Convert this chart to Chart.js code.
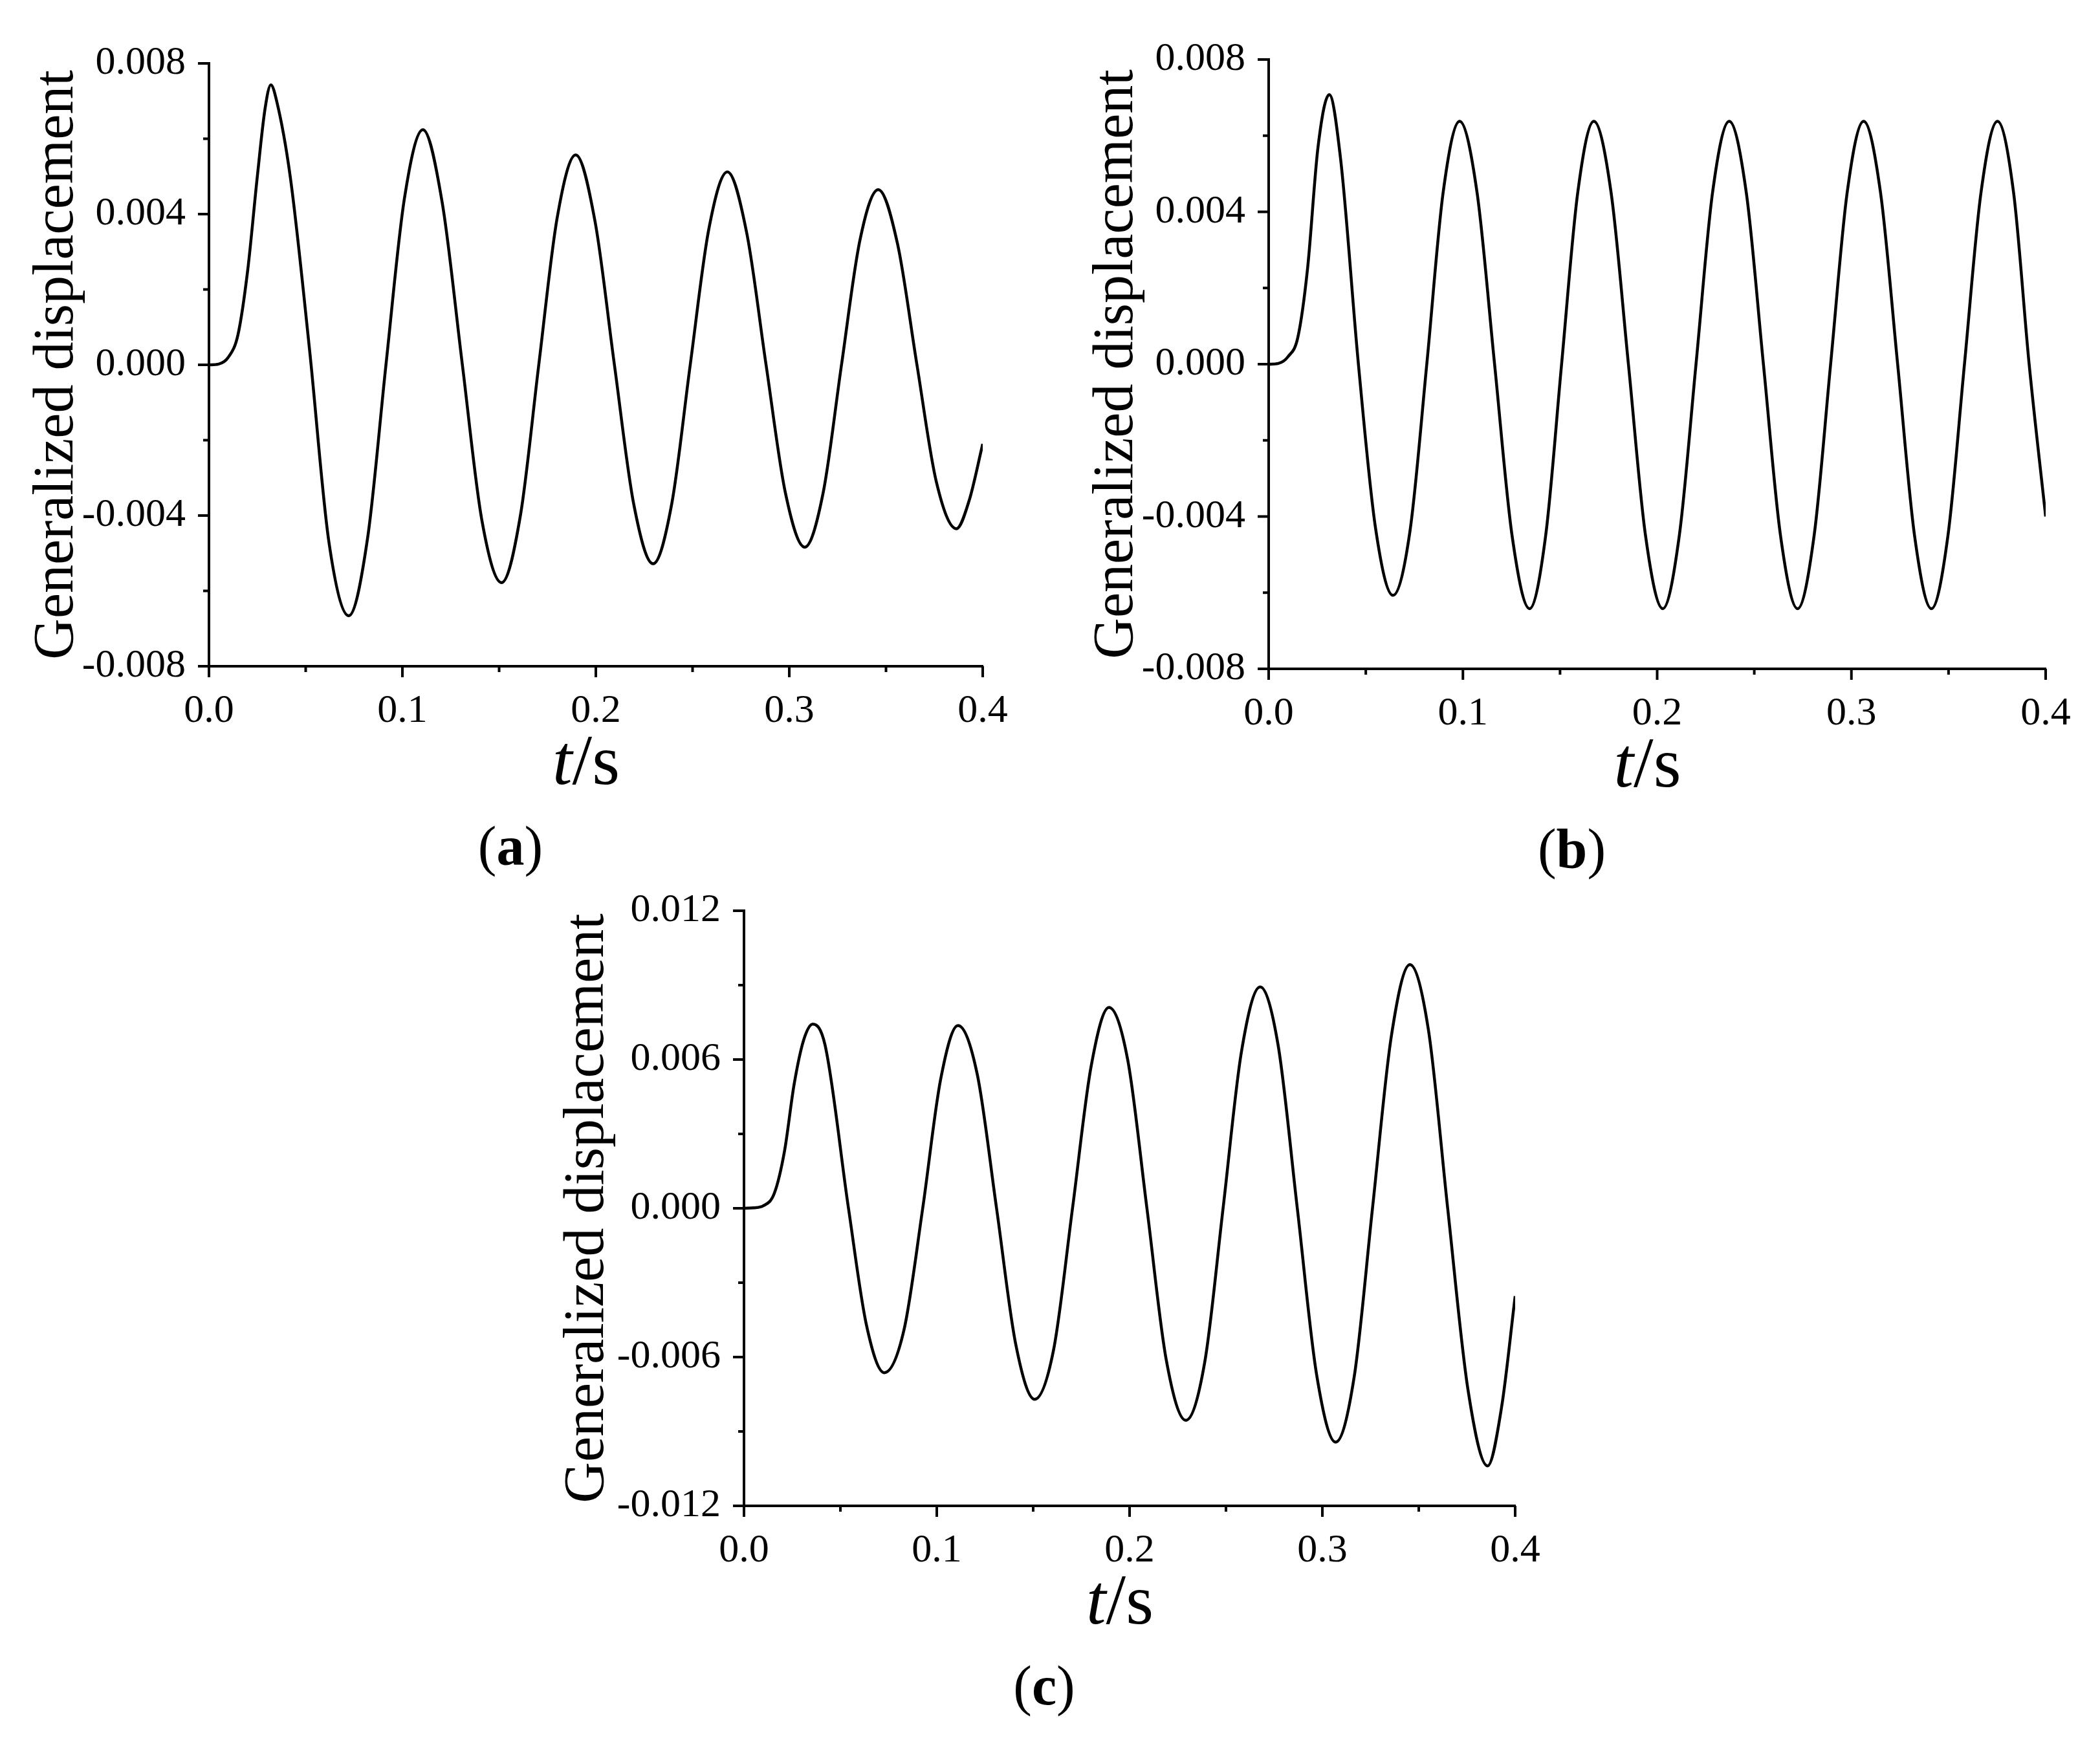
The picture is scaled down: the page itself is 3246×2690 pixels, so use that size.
<!DOCTYPE html>
<html><head><meta charset="utf-8">
<script src="https://cdn.jsdelivr.net/npm/chart.js@4"></script>
<style>
body{margin:0;background:#fff;width:3246px;height:2690px;position:relative;overflow:hidden}
canvas{position:absolute}
</style></head><body>
<canvas id="ca" width="1623" height="1400" style="left:0;top:0"></canvas>
<canvas id="cb" width="1623" height="1400" style="left:1623px;top:0"></canvas>
<canvas id="cc" width="1623" height="1390" style="left:800px;top:1300px"></canvas>
<script>
const tA=[0,0.005,0.01,0.015,0.02,0.025,0.029,0.032,0.035,0.042,0.052,0.062,0.0723,0.082,0.0915,0.101,0.1106,0.1206,0.131,0.141,0.1513,0.161,0.1705,0.180,0.1896,0.1996,0.2096,0.2196,0.2296,0.2392,0.2488,0.2584,0.268,0.278,0.288,0.298,0.308,0.3175,0.327,0.3365,0.346,0.356,0.366,0.376,0.3864,0.393,0.400];
const vA=[0,0.00002,0.0002,0.0008,0.0025,0.0050,0.0068,0.00743,0.0070,0.0050,0.0004,-0.0047,-0.00666,-0.0046,0.0000,0.0044,0.00624,0.0043,0.0000,-0.0041,-0.00578,-0.0040,0.0000,0.0039,0.00557,0.0038,0.0000,-0.0037,-0.00528,-0.0037,0.0000,0.0036,0.00512,0.0035,0.0000,-0.0034,-0.00484,-0.0034,0.0000,0.0033,0.00465,0.0032,0.0000,-0.0031,-0.00435,-0.0036,-0.0021];
const tB=[0,0.005,0.01,0.015,0.02,0.0254,0.0312,0.037,0.0462,0.055,0.064,0.0727,0.0814,0.0898,0.0983,0.1073,0.1163,0.1253,0.1343,0.1426,0.1508,0.1591,0.1674,0.1763,0.1852,0.194,0.2029,0.2114,0.22,0.2285,0.2371,0.2459,0.2547,0.2635,0.2723,0.2808,0.2893,0.2978,0.3063,0.315,0.3238,0.3325,0.3412,0.3497,0.3582,0.3667,0.3752,0.3835,0.3915,0.400];
const vB=[0,0.00002,0.0002,0.0007,0.0025,0.0057,0.00708,0.0054,0.0000,-0.0043,-0.00607,-0.0044,0.0000,0.0045,0.00638,0.0045,0.0000,-0.0045,-0.00642,-0.0045,0.0000,0.0045,0.00638,0.0045,0.0000,-0.0045,-0.00642,-0.0045,0.0000,0.0045,0.00638,0.0045,0.0000,-0.0045,-0.00642,-0.0045,0.0000,0.0045,0.00638,0.0045,0.0000,-0.0045,-0.00642,-0.0045,0.0000,0.0045,0.00638,0.0045,0.0000,-0.0040];
const tC=[0,0.005,0.01,0.0157,0.021,0.026,0.031,0.0357,0.042,0.0542,0.0635,0.0728,0.083,0.0927,0.102,0.111,0.121,0.131,0.141,0.1508,0.1606,0.1704,0.180,0.1893,0.199,0.209,0.219,0.2292,0.239,0.2485,0.258,0.2677,0.277,0.287,0.297,0.3069,0.3165,0.326,0.3357,0.3454,0.355,0.365,0.3755,0.3857,0.393,0.400];
const vC=[0,0.00002,0.0001,0.0006,0.0023,0.0050,0.0068,0.00743,0.0066,0.0000,-0.0047,-0.00663,-0.0049,0.0000,0.0052,0.00737,0.0054,0.0000,-0.0055,-0.0077,-0.0057,0.0000,0.0057,0.0081,0.0060,0.0000,-0.0061,-0.00855,-0.0062,0.0000,0.0063,0.00893,0.0066,0.0000,-0.0067,-0.00943,-0.0068,0.0000,0.0069,0.00983,0.0072,0.0000,-0.0073,-0.01039,-0.0080,-0.00354];
const xTicks=[0,0.1,0.2,0.3,0.4];
const panelLabels=['a','b','c'];

const FONT='"Liberation Serif","Times New Roman",serif';
function mk(id,ts,vs,ymax,ystep,cfg,label){
  const pts=ts.map((t,i)=>({x:t,y:vs[i]}));
  const deco={id:'deco',afterDraw(ch){
    const c=ch.ctx,a=ch.chartArea,xs=ch.scales.x,ys=ch.scales.y;
    c.save();c.strokeStyle='#000';c.lineWidth=4;c.fillStyle='#000';
    for(let k=0;k<=8;k++){const v=-ymax+k*ymax/4;const y=ys.getPixelForValue(v);const L=(k%2===0)?17:9;
      c.beginPath();c.moveTo(a.left,y);c.lineTo(a.left-L,y);c.stroke();}
    for(let k=0;k<=8;k++){const v=k*0.05;const x=xs.getPixelForValue(v);const L=(k%2===0)?17:9;
      c.beginPath();c.moveTo(x,a.bottom);c.lineTo(x,a.bottom+L);c.stroke();}
    // y title
    c.save();c.translate(a.left-cfg.tx,(a.top+a.bottom)/2);c.rotate(-Math.PI/2);
    c.font='88px '+FONT;c.textAlign='center';c.textBaseline='alphabetic';
    c.fillText('Generalized displacement',0,0);c.restore();
    // x title t/s
    const cx=(a.left+a.right)/2-15,by=a.bottom+182;
    c.font='italic 110px '+FONT;const w1=c.measureText('t').width;
    c.font='110px '+FONT;const w2=c.measureText('/s').width;
    let x0=cx-(w1+w2)/2;c.textAlign='left';
    c.font='italic 110px '+FONT;c.fillText('t',x0,by);
    c.font='110px '+FONT;c.fillText('/s',x0+w1,by);
    // panel label
    const ly=a.bottom+307,lx=(a.left+a.right)/2-132;
    c.font='86px '+FONT;const p1=c.measureText('(').width,p3=c.measureText(')').width;
    c.font='bold 86px '+FONT;const p2=c.measureText(label).width;
    let lx0=lx-(p1+p2+p3)/2;
    c.font='86px '+FONT;c.fillText('(',lx0,ly);
    c.font='bold 86px '+FONT;c.fillText(label,lx0+p1,ly);
    c.font='86px '+FONT;c.fillText(')',lx0+p1+p2,ly);
    c.restore();}};
  new Chart(document.getElementById(id),{type:'line',
    data:{datasets:[{data:pts,borderColor:'#000',borderWidth:4.5,pointRadius:0,cubicInterpolationMode:'monotone',fill:false}]},
    options:{responsive:false,devicePixelRatio:1,animation:false,
      layout:{padding:{top:cfg.top,right:cfg.right,left:0,bottom:0}},
      plugins:{legend:{display:false},tooltip:{enabled:false}},
      scales:{
        x:{type:'linear',min:0,max:0.4,afterFit:s=>{s.height=cfg.xh},
          afterBuildTicks:s=>{s.ticks=xTicks.map(v=>({value:v}))},
          grid:{display:true,drawOnChartArea:false,drawTicks:false},
          border:{display:true,color:'#000',width:4},
          ticks:{padding:33,color:'#000',font:{family:FONT,size:62},maxRotation:0,callback:v=>Number(v).toFixed(1)}},
        y:{type:'linear',min:-ymax,max:ymax,afterFit:s=>{s.width=cfg.yw},
          grid:{display:true,drawOnChartArea:false,drawTicks:false},
          border:{display:true,color:'#000',width:4},
          ticks:{stepSize:ystep,padding:36,color:'#000',font:{family:FONT,size:62},callback:v=>Number(v).toFixed(3)}}
      }},plugins:[deco]});
}
mk('ca',tA,vA,0.008,0.004,{top:98,right:104,yw:323,xh:370,tx:211},panelLabels[0]);
mk('cb',tB,vB,0.008,0.004,{top:92,right:84,yw:338,xh:366,tx:211},panelLabels[1]);
mk('cc',tC,vC,0.012,0.006,{top:108,right:81,yw:350,xh:362,tx:218},panelLabels[2]);
</script></body></html>
